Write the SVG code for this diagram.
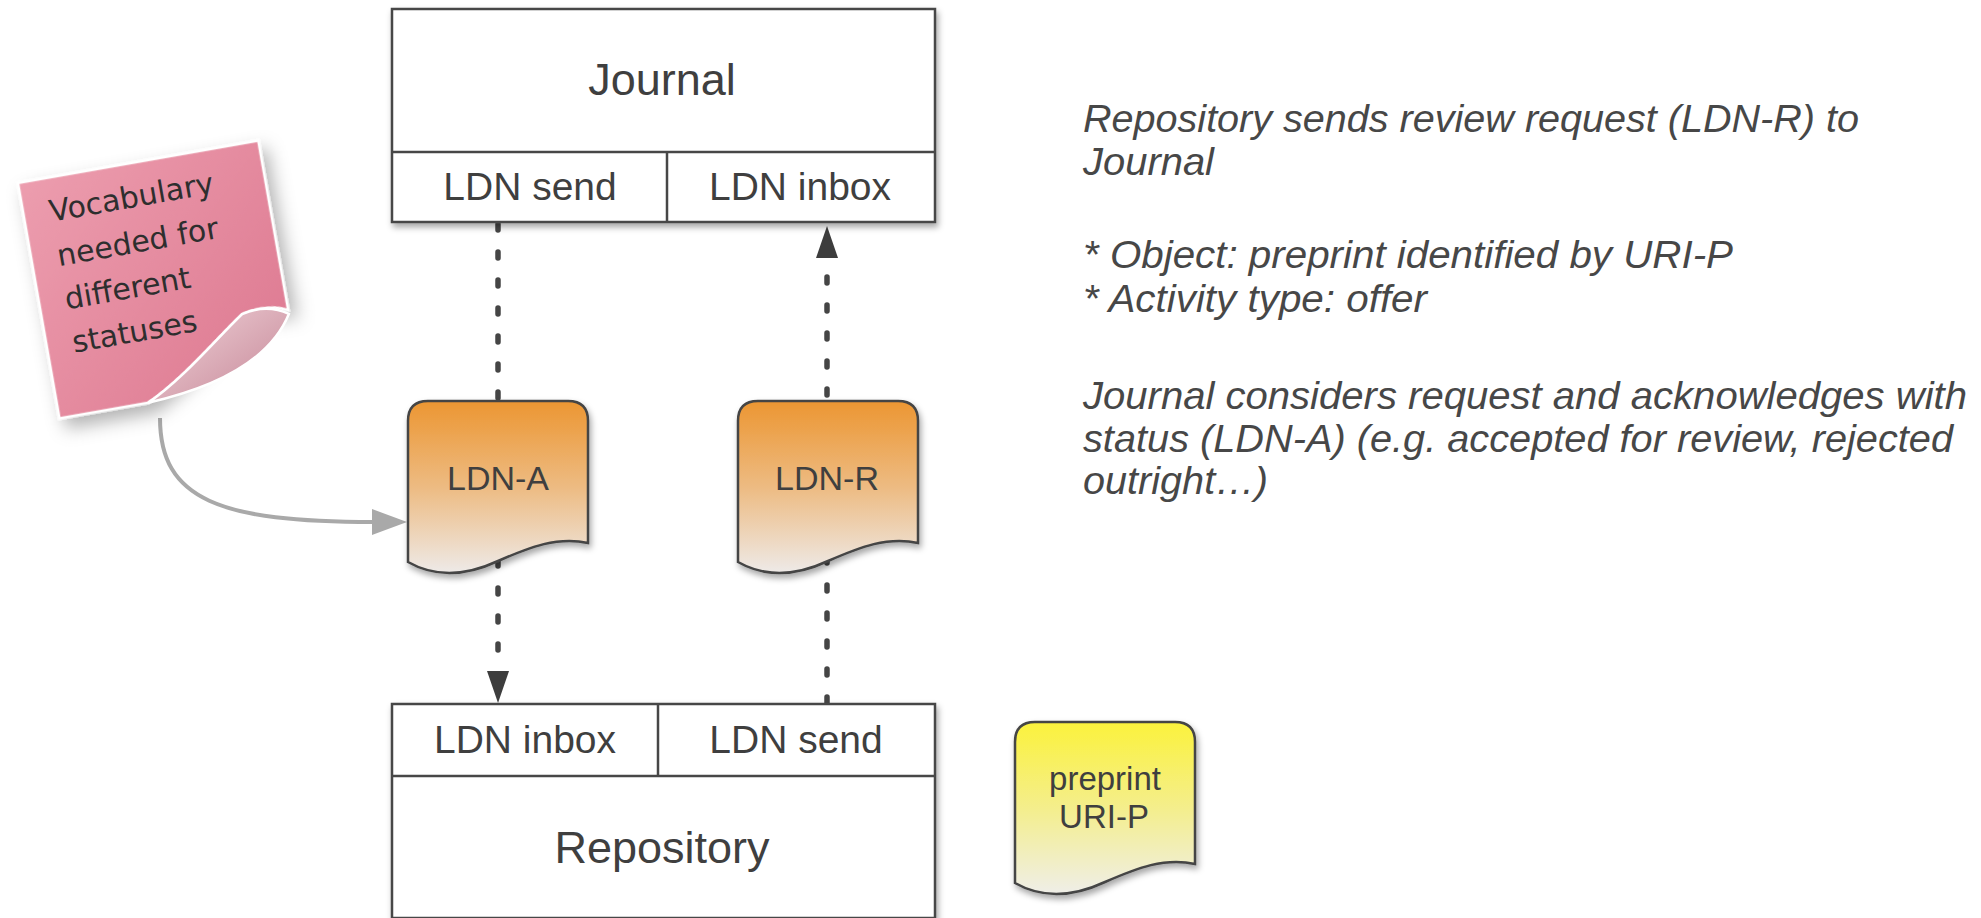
<svg xmlns="http://www.w3.org/2000/svg" width="1981" height="918" viewBox="0 0 1981 918">
<style>
.box{fill:#fff;stroke:#474747;stroke-width:2.5}
.div{fill:none;stroke:#474747;stroke-width:2.5}
.lbl{font-family:"Liberation Sans",Arial,sans-serif;fill:#3f3f3f;text-anchor:middle}
.big{font-size:45px}
.mid{font-size:39px}
.doc{font-size:34px}
.dash{fill:none;stroke:#454545;stroke-width:5.5;stroke-linecap:round;stroke-dasharray:6 22}
.head{fill:#3d3d3d}
.note{font-family:"Liberation Sans",Arial,sans-serif;font-style:italic;font-size:39px;fill:#474747}
.sticky{font-family:"DejaVu Sans",sans-serif;font-size:30px;fill:#2e2e2e}
.docshape{stroke:#444;stroke-width:2.5}
</style>
<defs>
<linearGradient id="orange" x1="0" y1="0" x2="0" y2="1">
<stop offset="0" stop-color="#ec9632"/>
<stop offset="0.5" stop-color="#edbb82"/>
<stop offset="1" stop-color="#eeeae8"/>
</linearGradient>
<linearGradient id="yellow" x1="0" y1="0" x2="0" y2="1">
<stop offset="0" stop-color="#fbf23c"/>
<stop offset="0.5" stop-color="#f4ee8c"/>
<stop offset="1" stop-color="#efeee8"/>
</linearGradient>
<linearGradient id="pink" x1="0" y1="0" x2="1" y2="1">
<stop offset="0" stop-color="#ec9dae"/>
<stop offset="1" stop-color="#dd7890"/>
</linearGradient>
<linearGradient id="curl" x1="0" y1="0" x2="1" y2="1">
<stop offset="0" stop-color="#eed0d6"/>
<stop offset="1" stop-color="#c98c9c"/>
</linearGradient>
<filter id="shadow" x="-10%" y="-10%" width="125%" height="130%">
<feDropShadow dx="2" dy="4" stdDeviation="3" flood-color="#000" flood-opacity="0.35"/>
</filter>
<filter id="softshadow" x="-20%" y="-20%" width="150%" height="150%">
<feDropShadow dx="6" dy="10" stdDeviation="9" flood-color="#000" flood-opacity="0.3"/>
</filter>
<path id="docpath" d="M0,161 C30,178 60,174 90,160 C122,146 150,135 180,142 L180,20 Q180,0 160,0 L20,0 Q0,0 0,20 Z"/>
</defs>

<g id="connectors">
<path class="dash" d="M498,224 L498,668"/>
<polygon class="head" points="487,671 509,671 498,703"/>
<path class="dash" d="M827,703 L827,262"/>
<polygon class="head" points="816,258 838,258 827,226"/>
<path d="M160,418 C160,500 220,522 374,522" fill="none" stroke="#a9a9a9" stroke-width="4"/>
<polygon points="372,509 407,522 372,535" fill="#a9a9a9"/>
</g>

<g id="journal" filter="url(#shadow)">
<rect class="box" x="392" y="9" width="543" height="213"/>
<line class="div" x1="392" y1="152" x2="935" y2="152"/>
<line class="div" x1="667" y1="152" x2="667" y2="222"/>
</g>
<g id="journal-text">
<text class="lbl big" x="662" y="95">Journal</text>
<text class="lbl mid" x="530" y="200">LDN send</text>
<text class="lbl mid" x="800" y="200">LDN inbox</text>
</g>

<g id="repository" filter="url(#shadow)">
<rect class="box" x="392" y="704" width="543" height="214"/>
<line class="div" x1="392" y1="776" x2="935" y2="776"/>
<line class="div" x1="658" y1="704" x2="658" y2="776"/>
</g>
<g id="repository-text">
<text class="lbl mid" x="525" y="753">LDN inbox</text>
<text class="lbl mid" x="796" y="753">LDN send</text>
<text class="lbl big" x="662" y="863">Repository</text>
</g>

<g id="ldn-a">
<use href="#docpath" transform="translate(408,401)" fill="url(#orange)" class="docshape" filter="url(#shadow)"/>
<text class="lbl doc" x="498" y="490">LDN-A</text>
</g>

<g id="ldn-r">
<use href="#docpath" transform="translate(738,401)" fill="url(#orange)" class="docshape" filter="url(#shadow)"/>
<text class="lbl doc" x="827" y="490">LDN-R</text>
</g>

<g id="preprint">
<use href="#docpath" transform="translate(1015,722)" fill="url(#yellow)" class="docshape" filter="url(#shadow)"/>
<text class="lbl" style="font-size:33px" x="1105" y="790">preprint</text>
<text class="lbl" style="font-size:33px" x="1104" y="828">URI-P</text>
</g>

<g id="sticky-note" transform="translate(18,183) rotate(-10)">
<path d="M0,0 H244 V172 Q224,162 198,168 C168,188 128,222 90,239 H0 Z" fill="url(#pink)" stroke="#fff" stroke-width="2.5" filter="url(#softshadow)"/>
<path d="M198,168 C168,188 128,222 90,239 C150,236 215,222 244,176 Q224,162 198,168 Z" fill="url(#curl)" stroke="#fff" stroke-width="2.5"/>
<text class="sticky" x="26" y="44">Vocabulary</text>
<text class="sticky" x="26" y="89">needed for</text>
<text class="sticky" x="26" y="133">different</text>
<text class="sticky" x="26" y="177">statuses</text>
</g>

<g id="description">
<text class="note" x="1083" y="132" textLength="776" lengthAdjust="spacingAndGlyphs">Repository sends review request (LDN-R) to</text>
<text class="note" x="1083" y="175" textLength="131" lengthAdjust="spacingAndGlyphs">Journal</text>
<text class="note" x="1083" y="268" textLength="650" lengthAdjust="spacingAndGlyphs">* Object: preprint identified by URI-P</text>
<text class="note" x="1083" y="312" textLength="344" lengthAdjust="spacingAndGlyphs">* Activity type: offer</text>
<text class="note" x="1083" y="409" textLength="884" lengthAdjust="spacingAndGlyphs">Journal considers request and acknowledges with</text>
<text class="note" x="1083" y="452" textLength="870" lengthAdjust="spacingAndGlyphs">status (LDN-A) (e.g. accepted for review, rejected</text>
<text class="note" x="1083" y="494" textLength="185" lengthAdjust="spacingAndGlyphs">outright…)</text>
</g>
</svg>
